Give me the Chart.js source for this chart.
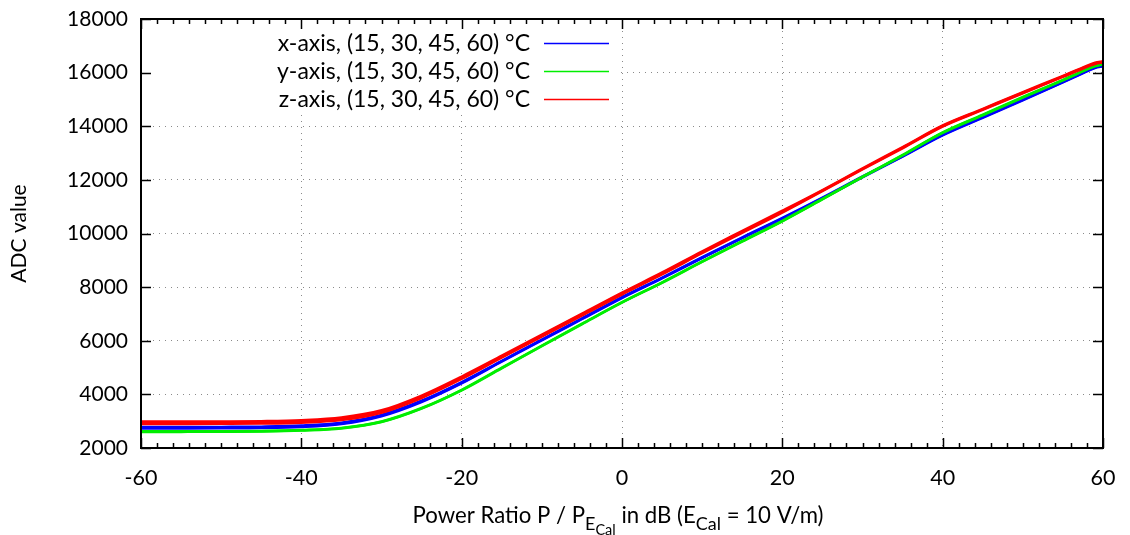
<!DOCTYPE html>
<html><head><meta charset="utf-8">
<script src="https://cdn.jsdelivr.net/npm/chart.js@4.4.0/dist/chart.umd.min.js"></script>
<style>html,body{margin:0;padding:0;background:#fff;}#wrap{width:1130px;height:535px;}</style>
</head><body><div id="wrap"><canvas id="c" width="1130" height="535"></canvas></div>
<script>
// ---- data ----
const powerDb = [-60,-55,-50,-45,-40,-35,-30,-25,-20,-15,-10,-5,0,5,10,15,20,25,30,35,40,45,50,55,57,59,60];
const xAxis15 = [2720,2722,2726,2736,2775,2885,3175,3705,4400,5210,6005,6795,7585,8315,9075,9815,10539,11295,12085,12855,13650,14305,14955,15625,15895,16165,16225];
const xAxis30 = [2743,2745,2749,2759,2798,2908,3198,3728,4423,5227,6022,6812,7602,8332,9092,9832,10556,11312,12102,12872,13667,14322,14972,15642,15912,16182,16242];
const xAxis45 = [2767,2769,2773,2783,2822,2932,3222,3752,4447,5243,6038,6828,7618,8348,9108,9848,10572,11328,12118,12888,13683,14338,14988,15658,15928,16198,16258];
const xAxis60 = [2790,2792,2796,2806,2845,2955,3245,3775,4470,5260,6055,6845,7635,8365,9125,9865,10589,11345,12135,12905,13700,14355,15005,15675,15945,16215,16275];
const yAxis15 = [2590,2592,2596,2606,2640,2720,2960,3460,4140,4965,5790,6605,7410,8150,8930,9690,10444,11260,12090,12900,13740,14400,15060,15700,15970,16230,16300];
const yAxis30 = [2603,2605,2609,2619,2653,2733,2973,3473,4153,4978,5803,6618,7423,8163,8943,9703,10457,11273,12103,12913,13753,14413,15073,15713,15983,16243,16313];
const yAxis45 = [2617,2619,2623,2633,2667,2747,2987,3487,4167,4992,5817,6632,7437,8177,8957,9717,10471,11287,12117,12927,13767,14427,15087,15727,15997,16257,16327];
const yAxis60 = [2630,2632,2636,2646,2680,2760,3000,3500,4180,5005,5830,6645,7450,8190,8970,9730,10484,11300,12130,12940,13780,14440,15100,15740,16010,16270,16340];
const zAxis15 = [2885,2887,2891,2901,2935,3035,3305,3855,4565,5360,6145,6930,7715,8465,9255,10015,10769,11570,12380,13170,13980,14600,15220,15830,16080,16315,16370];
const zAxis30 = [2922,2924,2928,2938,2972,3072,3342,3892,4602,5390,6175,6960,7745,8495,9285,10045,10799,11590,12400,13190,14000,14620,15240,15850,16100,16335,16390];
const zAxis45 = [2958,2960,2964,2974,3008,3108,3378,3928,4638,5420,6205,6990,7775,8525,9315,10075,10829,11610,12420,13210,14020,14640,15260,15870,16120,16355,16410];
const zAxis60 = [2995,2997,3001,3011,3045,3145,3415,3965,4675,5450,6235,7020,7805,8555,9345,10105,10859,11630,12440,13230,14040,14660,15280,15890,16140,16375,16430];
const xTickValues = [-60,-40,-20,0,20,40,60];
const yTickValues = [2000,4000,6000,8000,10000,12000,14000,16000,18000];
const legendLabels = ['x-axis, (15, 30, 45, 60) °C','y-axis, (15, 30, 45, 60) °C','z-axis, (15, 30, 45, 60) °C'];
const xTitleParts = [['Power Ratio P / P',0],['E',1],['Cal',2],[' in dB (E',0],['Cal',1],[' = 10 V/m)',0]];
const yTitle = 'ADC value';

const BLUE='#0000ff', GREEN='#00ee00', RED='#ff0000';
const FONT='Lato';
const toPts = arr => arr.map((v,i)=>({x:powerDb[i], y:v}));
function ds(arr,color,order){return {data:toPts(arr),borderColor:color,borderWidth:2,pointRadius:0,fill:false,cubicInterpolationMode:'monotone',order:order};}

const decor = {
  id:'decor',
  beforeDatasetsDraw(chart){
    const {ctx, chartArea:a} = chart;
    ctx.save(); ctx.fillStyle='#fff';
    ctx.fillRect(a.left+1, a.top+1, 620-a.left, 113-a.top);
    ctx.restore();
  },
  afterDatasetsDraw(chart){
    const {ctx, chartArea:a, scales:{x,y}} = chart;
    ctx.save();
    ctx.strokeStyle='#000'; ctx.lineWidth=1.5;
    ctx.beginPath();
    for(let v=-60; v<=60; v+=2){
      const px=Math.round(x.getPixelForValue(v))+0.5;
      const len = xTickValues.includes(v)?10:5;
      ctx.moveTo(px,a.bottom); ctx.lineTo(px,a.bottom-len);
      ctx.moveTo(px,a.top); ctx.lineTo(px,a.top+len);
    }
    yTickValues.forEach(v=>{
      const py=Math.round(y.getPixelForValue(v))+0.5;
      ctx.moveTo(a.left,py); ctx.lineTo(a.left+10,py);
      ctx.moveTo(a.right,py); ctx.lineTo(a.right-10,py);
    });
    ctx.stroke();
    ctx.lineWidth=2;
    ctx.strokeRect(a.left, a.top, a.right-a.left, a.bottom-a.top);
    ctx.font = '23px '+FONT; ctx.fillStyle='#000'; ctx.textAlign='right'; ctx.textBaseline='middle';
    const rows=[43,71,99], cols=[BLUE,GREEN,RED];
    legendLabels.forEach((t,i)=>{
      ctx.fillText(t,530,rows[i]+1);
      ctx.strokeStyle=cols[i]; ctx.lineWidth=1.5;
      ctx.beginPath(); ctx.moveTo(544,rows[i]+0.5); ctx.lineTo(609,rows[i]+0.5); ctx.stroke();
    });
    ctx.restore();
  },
  afterDraw(chart){
    const ctx=chart.ctx;
    const sizes=[22.2,18,14.5], dys=[0,7,12];
    ctx.save(); ctx.fillStyle='#000'; ctx.textBaseline='alphabetic'; ctx.textAlign='left';
    let total=0;
    xTitleParts.forEach(p=>{ctx.font=sizes[p[1]]+'px '+FONT; total+=ctx.measureText(p[0]).width;});
    let cx=618-total/2; const base=523;
    xTitleParts.forEach(p=>{ctx.font=sizes[p[1]]+'px '+FONT; ctx.fillText(p[0],cx,base+dys[p[1]]); cx+=ctx.measureText(p[0]).width;});
    ctx.restore();
  }
};

new Chart(document.getElementById('c'),{
  type:'line',
  data:{datasets:[
    ds(xAxis15,BLUE,3),ds(xAxis30,BLUE,3),ds(xAxis45,BLUE,3),ds(xAxis60,BLUE,3),
    ds(yAxis15,GREEN,2),ds(yAxis30,GREEN,2),ds(yAxis45,GREEN,2),ds(yAxis60,GREEN,2),
    ds(zAxis15,RED,1),ds(zAxis30,RED,1),ds(zAxis45,RED,1),ds(zAxis60,RED,1)
  ]},
  options:{
    responsive:false, animation:false, devicePixelRatio:1,
    layout:{padding:{left:0,right:27,top:19,bottom:0}},
    plugins:{legend:{display:false},tooltip:{enabled:false}},
    scales:{
      x:{type:'linear',min:-60,max:60,
        afterBuildTicks:s=>{s.ticks=xTickValues.map(v=>({value:v}));},
        afterFit:s=>{s.height=87; s.paddingLeft=0; s.paddingRight=0;},
        ticks:{font:{family:FONT,size:21.5},color:'#000',padding:17,maxRotation:0,callback:v=>String(v)},
        grid:{color:'#8a8a8a',lineWidth:1,drawTicks:false},
        border:{display:false,dash:[1,5]}
      },
      y:{type:'linear',min:2000,max:18000,
        afterBuildTicks:s=>{s.ticks=yTickValues.map(v=>({value:v}));},
        afterFit:s=>{s.width=141; s.paddingTop=0; s.paddingBottom=0;},
        ticks:{font:{family:FONT,size:21},color:'#000',padding:13,callback:v=>String(v)},
        grid:{color:'#8a8a8a',lineWidth:1,drawTicks:false},
        border:{display:false,dash:[1,5]},
        title:{display:true,text:yTitle,font:{family:FONT,size:21},color:'#000',padding:{top:7,bottom:0}}
      }
    }
  },
  plugins:[decor]
});
</script></body></html>
